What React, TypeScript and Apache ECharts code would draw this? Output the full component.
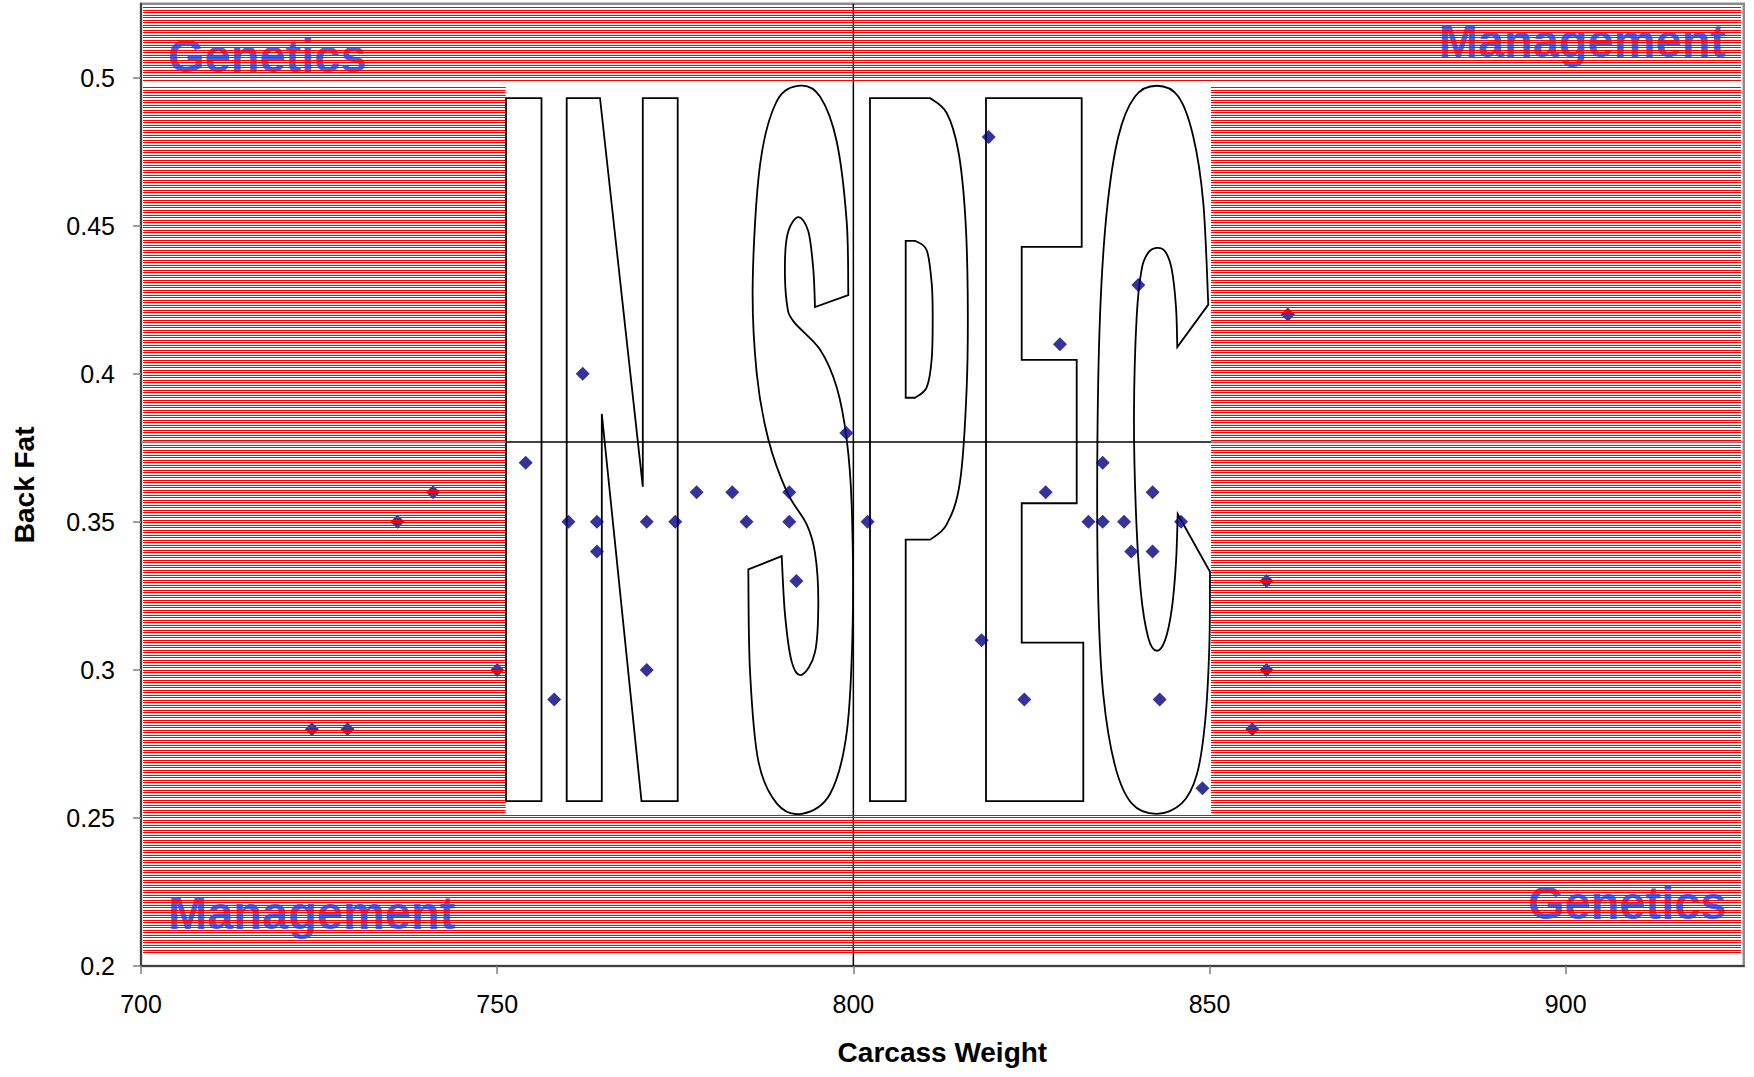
import { useEffect, useRef } from 'react';
import * as echarts from 'echarts';

// ---------------- data ----------------
const carcassWeight = [724, 729, 736, 741, 750, 754, 758, 760, 762, 764, 764, 771, 771, 775, 778, 783, 785, 791, 791, 792, 799, 802, 818, 819, 824, 827, 829, 833, 835, 835, 838, 839, 840, 842, 842, 843, 846, 849, 856, 858, 858, 861];
const backFat = [0.28, 0.28, 0.35, 0.36, 0.30, 0.37, 0.29, 0.35, 0.40, 0.35, 0.34, 0.35, 0.30, 0.35, 0.36, 0.36, 0.35, 0.36, 0.35, 0.33, 0.38, 0.35, 0.31, 0.48, 0.29, 0.36, 0.41, 0.35, 0.37, 0.35, 0.35, 0.34, 0.43, 0.36, 0.34, 0.29, 0.35, 0.26, 0.28, 0.33, 0.30, 0.42];
const xTicks = [700, 750, 800, 850, 900];
const yTicks = [0.2, 0.25, 0.3, 0.35, 0.4, 0.45, 0.5];
const xRange = [700, 925];
const yRange = [0.2, 0.525];
const targetWeight = 800;
const targetFat = 0.377;
const specWeight = [751.2, 850.2];
const specFat = [0.2517, 0.4975];
const cornerLabels = ['Genetics', 'Management', 'Management', 'Genetics'];
const xTitle = 'Carcass Weight';
const yTitle = 'Back Fat';
const stampText = 'IN SPEC';

// hatched zones (x0, x1, y0, y1) around the spec box
const hatchZones = [
  [700.28, 924.6, 0.4986, 0.5239],
  [700.28, 924.6, 0.2037, 0.2512],
  [700.28, specWeight[0], specFat[0], specFat[1]],
  [specWeight[1], 924.6, specFat[0], specFat[1]],
];

// ---------------- IN SPEC outline (reference pixel frame) ----------------
type P = [number, number];
function curve(pts: P[]): string {
  let d = '';
  for (let i = 0; i < pts.length - 1; i++) {
    const p0 = pts[i - 1] || pts[i];
    const p1 = pts[i];
    const p2 = pts[i + 1];
    const p3 = pts[i + 2] || p2;
    const c1x = p1[0] + (p2[0] - p0[0]) / 6;
    const c1y = p1[1] + (p2[1] - p0[1]) / 6;
    const c2x = p2[0] - (p3[0] - p1[0]) / 6;
    const c2y = p2[1] - (p3[1] - p1[1]) / 6;
    d += `C${c1x.toFixed(2)} ${c1y.toFixed(2)} ${c2x.toFixed(2)} ${c2y.toFixed(2)} ${p2[0]} ${p2[1]}`;
  }
  return d;
}

const letterI = 'M506 98H541.5V801H506Z';
const letterN = 'M566.7 98H600L642.8 486.6V98H677.7V801H641.5L601.8 413.9V801H566.7Z';
const letterS =
  'M848.3 295.1' +
  curve([[848.3, 295.1], [846.7, 221.8], [836.7, 141.5], [820, 96.5], [800, 85.7], [776.7, 101.3], [760, 165.1], [752.7, 283.3], [756.7, 373.1], [768.3, 439.3], [786.7, 491.3], [806.7, 524.4], [815, 552.8], [818.3, 600.1], [815, 652.1], [801.7, 674.8], [791.7, 661.6], [785, 614.3], [781.7, 556.1]]) +
  'L748.3 569.4' +
  curve([[748.3, 569.4], [750, 671], [758.3, 760.9], [776.7, 803.4], [801.7, 813.8], [830, 794], [846.7, 732.5], [852.7, 623.7], [851.7, 505.5], [846.7, 439.3], [836.7, 387.3], [820, 349.5], [793.3, 321.1], [786.7, 302.2], [785, 259.7], [788.3, 231.3], [798.3, 217.1], [808.3, 231.3], [813.3, 269.1], [815, 307]]) +
  'Z';
const letterP =
  'M870 98H930' +
  curve([[930, 98], [946.7, 113], [958.3, 151], [965, 212.4], [967.7, 292.8], [966.7, 387.3], [960, 481.9], [946.7, 524.4], [930, 539.6]]) +
  'H905.7V801H870Z' +
  'M905.7 240.8H915' +
  curve([[915, 240.8], [926.7, 250.2], [931.7, 283.3], [932.7, 316.4], [931.7, 359], [926.7, 387.3], [915, 397.7]]) +
  'H905.7Z';
const letterE = 'M986 98H1081.7V246.9H1021.7V359.9H1076.7V503.2H1021.7V642.6H1083.3V801H986Z';
const letterC =
  'M1208.3 304.6L1177.3 347.1' +
  curve([[1177.3, 347.1], [1176, 307], [1171.7, 269.1], [1165, 251.2], [1156.7, 247.8], [1148.3, 252.6], [1141.7, 269.1], [1136.7, 316.4], [1134, 411], [1135.7, 505.5], [1140.7, 590.6], [1148.3, 637.9], [1156.7, 650.7], [1165, 640.3], [1171.7, 609.6], [1176, 562.3], [1177.7, 514]]) +
  'L1210 571.7' +
  curve([[1210, 571.7], [1209.3, 647.4], [1205, 723], [1196.7, 775], [1181.7, 803.4], [1156.7, 813.8], [1131.7, 803.4], [1115, 765.6], [1103.3, 694.7], [1098.3, 600.1], [1097.3, 458.3], [1100, 316.4], [1106.7, 212.4], [1118.3, 136.7], [1135, 96.5], [1156.7, 85.7], [1178.3, 96.5], [1193.3, 136.7], [1203.3, 202.9], [1208.3, 304.6]]) +
  'Z';

let registered = false;
function registerStamp() {
  if (registered) return;
  const d = letterI + letterN + letterS + letterP + letterE + letterC;
  echarts.graphic.registerShape('inspec', echarts.graphic.extendPath(d, {}) as any);
  registered = true;
}

const FONT = '"Liberation Sans", Arial, sans-serif';
const fmt = (v: number) => String(Number(Number(v).toFixed(4)));

export default function App() {
  const ref = useRef<HTMLDivElement>(null);

  useEffect(() => {
    if (!ref.current) return;
    registerStamp();
    const chart = echarts.init(ref.current, null, { renderer: 'svg' });

    const option: any = {
      animation: false,
      backgroundColor: '#ffffff',
      grid: {
        left: 141,
        right: 10.2,
        top: 3.7,
        bottom: 111,
        show: true,
        borderColor: '#8c8c8c',
        borderWidth: 2.5,
        backgroundColor: '#ffffff',
      },
      xAxis: {
        type: 'value',
        min: xRange[0],
        max: xRange[1],
        interval: 50,
        splitLine: { show: false },
        axisLine: { show: true, onZero: false, lineStyle: { color: '#404040', width: 2 } },
        axisTick: { show: true, length: 8, customValues: xTicks, lineStyle: { color: '#808080', width: 1.5 } },
        axisLabel: {
          customValues: xTicks,
          color: '#000',
          fontSize: 25,
          fontFamily: FONT,
          margin: 25,
          formatter: (v: number) => fmt(v),
        },
      },
      yAxis: {
        type: 'value',
        min: yRange[0],
        max: yRange[1],
        interval: 0.05,
        splitLine: { show: false },
        axisLine: { show: true, onZero: false, lineStyle: { color: '#404040', width: 2 } },
        axisTick: { show: true, length: 8, customValues: yTicks, lineStyle: { color: '#808080', width: 1.5 } },
        axisLabel: {
          customValues: yTicks,
          color: '#000',
          fontSize: 25,
          fontFamily: FONT,
          margin: 26,
          formatter: (v: number) => fmt(v),
        },
      },
      series: [
        {
          type: 'line',
          z: 2,
          silent: true,
          symbol: 'none',
          data: [[targetWeight, yRange[0]], [targetWeight, yRange[1]]],
          lineStyle: { color: '#000', width: 1.5 },
        },
        {
          type: 'line',
          z: 2,
          silent: true,
          symbol: 'none',
          data: [[specWeight[0], targetFat], [specWeight[1], targetFat]],
          lineStyle: { color: '#000', width: 1.5 },
        },
        {
          type: 'scatter',
          z: 3,
          silent: true,
          symbol: 'diamond',
          symbolSize: 14,
          itemStyle: { color: '#000080' },
          data: carcassWeight.map((x, i) => [x, backFat[i]]),
        },
        {
          type: 'custom',
          z: 5,
          silent: true,
          clip: false,
          coordinateSystem: 'cartesian2d',
          encode: { x: [0, 1], y: [2, 3] },
          data: hatchZones,
          renderItem: (_params: any, api: any) => {
            const a = api.coord([api.value(0), api.value(3)]);
            const b = api.coord([api.value(1), api.value(2)]);
            const children: any[] = [];
            for (let r = Math.ceil(a[1]); r < b[1] - 0.5; r++) {
              const m = r % 5;
              if (m === 0 || m === 2) {
                children.push({
                  type: 'rect',
                  shape: { x: a[0], y: r, width: b[0] - a[0], height: 1 },
                  style: { fill: '#ff0000' },
                });
              }
            }
            return { type: 'group', children };
          },
        },
        {
          type: 'line',
          z: 6,
          silent: true,
          symbol: 'none',
          data: [[xRange[0], targetFat], [specWeight[0], targetFat]],
          lineStyle: { color: '#8a8a8a', width: 1.5 },
        },
        {
          type: 'line',
          z: 6,
          silent: true,
          symbol: 'none',
          data: [[specWeight[1], targetFat], [xRange[1], targetFat]],
          lineStyle: { color: '#8a8a8a', width: 1.5 },
        },
      ],
    };
    chart.setOption(option);

    // map reference-frame pixels to the chart through the axes
    const p = chart.convertToPixel({ gridIndex: 0 }, [700, 0.5]) as number[];
    const q = chart.convertToPixel({ gridIndex: 0 }, [900, 0.2]) as number[];
    const sx = (q[0] - p[0]) / (1565.7 - 141);
    const sy = (q[1] - p[1]) / (966 - 77.7);
    const ox = p[0] - 141 * sx;
    const oy = p[1] - 77.7 * sy;
    const mx = (x: number) => ox + x * sx;
    const my = (y: number) => oy + y * sy;

    const labelStyle = (text: string, align: string) => ({
      text,
      fontSize: 47,
      fontWeight: 'bold',
      fontFamily: FONT,
      fill: '#3f62f4',
      align,
      textAlign: align,
      verticalAlign: 'middle',
      textVerticalAlign: 'middle',
    });

    const g0 = chart.convertToPixel({ gridIndex: 0 }, [xRange[0], yRange[1]]) as number[];
    const g1 = chart.convertToPixel({ gridIndex: 0 }, [xRange[1], yRange[0]]) as number[];

    chart.setOption({
      graphic: {
        elements: [
          {
            type: 'inspec',
            x: ox,
            y: oy,
            scaleX: sx,
            scaleY: sy,
            z: 1,
            silent: true,
            style: { fill: 'none', stroke: '#000', lineWidth: 1.8, strokeNoScale: true },
          },
          { type: 'text', x: mx(168), y: my(55.5), z: 1, silent: true, style: labelStyle(cornerLabels[0], 'left') },
          { type: 'text', x: mx(1726), y: my(40), z: 1, silent: true, style: labelStyle(cornerLabels[1], 'right') },
          { type: 'text', x: mx(168), y: my(912), z: 1, silent: true, style: labelStyle(cornerLabels[2], 'left') },
          { type: 'text', x: mx(1726.5), y: my(902.5), z: 1, silent: true, style: labelStyle(cornerLabels[3], 'right') },
          {
            type: 'text',
            x: (g0[0] + g1[0]) / 2,
            y: my(1053),
            z: 1,
            silent: true,
            style: {
              text: xTitle,
              fontSize: 28,
              fontWeight: 'bold',
              fontFamily: FONT,
              fill: '#000',
              align: 'center',
              textAlign: 'center',
              verticalAlign: 'middle',
              textVerticalAlign: 'middle',
            },
          },
          {
            type: 'text',
            x: mx(25),
            y: (g0[1] + g1[1]) / 2,
            rotation: Math.PI / 2,
            z: 1,
            silent: true,
            style: {
              text: yTitle,
              fontSize: 28,
              fontWeight: 'bold',
              fontFamily: FONT,
              fill: '#000',
              align: 'center',
              textAlign: 'center',
              verticalAlign: 'middle',
              textVerticalAlign: 'middle',
            },
          },
        ],
      },
    });

    return () => {
      chart.dispose();
    };
  }, []);

  return (
    <div
      ref={ref}
      aria-label={stampText}
      style={{ position: 'absolute', left: 0, top: 0, width: '1754px', height: '1077px' }}
    />
  );
}
